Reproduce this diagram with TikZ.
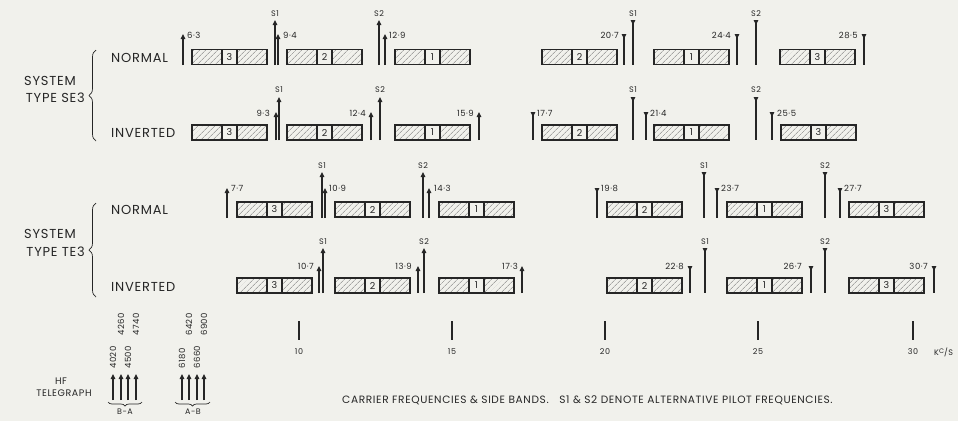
\documentclass[tikz,border=0pt]{standalone}
\usepackage{fontspec}
\setmainfont{Poppins}[LetterSpace=6]
\usetikzlibrary{arrows.meta,patterns.meta,decorations.pathreplacing}
\definecolor{paper}{RGB}{241,241,236}
\definecolor{ink}{RGB}{38,38,38}
\definecolor{hatch}{RGB}{125,125,125}

\tikzset{
  every node/.style={text=ink, inner sep=0pt},
  rowlbl/.style={font=\fontsize{13}{14}\selectfont, anchor=west},
  syslbl/.style={font=\fontsize{13}{14}\selectfont},
  freq/.style={font=\fontsize{8.5}{9}\selectfont},
  pilot/.style={font=\fontsize{8}{9}\selectfont, anchor=south},
  num/.style={font=\fontsize{9.5}{10}\selectfont},
  axlbl/.style={font=\fontsize{8}{9}\selectfont},
  upar/.style={draw=ink, line width=1.1pt, -{Triangle[length=5pt,width=4.5pt]}},
  dnar/.style={draw=ink, line width=1.1pt, {Triangle[length=5pt,width=4.5pt,reversed]}-},
  bandline/.style={draw=ink, line width=1.3pt},
  hatchfill/.style={pattern={Lines[angle=45,distance=4pt,line width=0.6pt]}, pattern color=hatch},
  curly/.style={draw=ink, line width=0.7pt, decorate, decoration={brace, amplitude=7pt}},
  smallcurly/.style={draw=ink, line width=0.7pt, decorate, decoration={brace, mirror, amplitude=4pt}},
}

% one channel band: hatched side bands either side of the numbered carrier cell
% #1 left x, #2 top y, #3 channel number, #4 node name
\newcommand\bandbox[4]{%
  \path[hatchfill] (#1,#2) rectangle ++(30,15);
  \path[hatchfill] (#1+45,#2) rectangle ++(30,15);
  \draw[bandline] (#1,#2) rectangle ++(75,15);
  \draw[bandline] (#1+30,#2) -- ++(0,15) (#1+45,#2) -- ++(0,15);
  \node[num] (#4) at (#1+37.5,#2+7.5) {#3};
}

\begin{document}
\begin{tikzpicture}[x=1pt,y=-1pt]
\fill[paper] (0,0) rectangle (958,421);
\useasboundingbox (0,0) rectangle (958,421);

% ---------------- system type SE3 ----------------
\node[syslbl] (seA) at (50,81) {SYSTEM};
\node[syslbl,anchor=east] (seB) at (85,98) {TYPE SE3};
\draw[curly] (96,141) -- (96,50);
\node[rowlbl] (seN) at (111,58) {NORMAL};
\node[rowlbl] (seI) at (111,133) {INVERTED};

\foreach \x/\n [count=\i] in {192/3,287/2,395/1,542/2,654/1,780/3}
  \bandbox{\x}{49.5}{\n}{seNb\i};
\foreach \x/\n [count=\i] in {192/3,287/2,395/1,542/2,654/1,781/3}
  \bandbox{\x}{125}{\n}{seIb\i};

\foreach \x/\t in {183/34,275/20,278/34,379/20,385/34}
  \draw[upar] (\x,65) -- (\x,\t);
\foreach \x/\t in {624/34,633/20,737/34,756/20,864/34}
  \draw[dnar] (\x,\t) -- (\x,65);
\foreach \x/\t in {276/112,279/97,371/112,380/97,479/112}
  \draw[upar] (\x,140) -- (\x,\t);
\foreach \x/\t in {533/112,633/97,646/112,756/97,772/112}
  \draw[dnar] (\x,\t) -- (\x,140);

\node[freq,anchor=west] (f1) at (187,35) {6·3};
\node[pilot] (p1) at (275,17) {S1};
\node[freq,anchor=west] (f2) at (283,35) {9·4};
\node[pilot] (p2) at (379,17) {S2};
\node[freq,anchor=west] (f3) at (389,35) {12·9};
\node[freq,anchor=east] (f4) at (619,35) {20·7};
\node[pilot] (p3) at (633,17) {S1};
\node[freq,anchor=east] (f5) at (731,35) {24·4};
\node[pilot] (p4) at (756,17) {S2};
\node[freq,anchor=east] (f6) at (858,35) {28·5};

\node[freq,anchor=east] (f7) at (270,113) {9·3};
\node[pilot] (p5) at (279,93) {S1};
\node[freq,anchor=east] (f8) at (366,113) {12·4};
\node[pilot] (p6) at (380,93) {S2};
\node[freq,anchor=east] (f9) at (474,113) {15·9};
\node[freq,anchor=west] (f10) at (537,113) {17·7};
\node[pilot] (p7) at (633,93) {S1};
\node[freq,anchor=west] (f11) at (650,113) {21·4};
\node[pilot] (p8) at (756,93) {S2};
\node[freq,anchor=west] (f12) at (777,113) {25·5};

% ---------------- system type TE3 ----------------
\node[syslbl] (teA) at (50,234) {SYSTEM};
\node[syslbl,anchor=east] (teB) at (85,252) {TYPE TE3};
\draw[curly] (96,297) -- (96,203);
\node[rowlbl] (teN) at (111,210) {NORMAL};
\node[rowlbl] (teI) at (111,287) {INVERTED};

\foreach \x/\n [count=\i] in {237/3,335/2,439/1,607/2,727/1,849/3}
  \bandbox{\x}{202}{\n}{teNb\i};
\foreach \x/\n [count=\i] in {237/3,335/2,439/1,607/2,727/1,849/3}
  \bandbox{\x}{278}{\n}{teIb\i};

\foreach \x/\t in {227/188,322/172,325/188,423/172,429/188}
  \draw[upar] (\x,218) -- (\x,\t);
\foreach \x/\t in {597/188,704/172,717/188,825/172,840/188}
  \draw[dnar] (\x,\t) -- (\x,218);
\foreach \x/\t in {319/266,323/248,418/266,424/248,522/266}
  \draw[upar] (\x,293) -- (\x,\t);
\foreach \x/\t in {690/266,705/248,811/266,825/248,934/266}
  \draw[dnar] (\x,\t) -- (\x,293);

\node[freq,anchor=west] (g1) at (231,188) {7·7};
\node[pilot] (q1) at (322,169) {S1};
\node[freq,anchor=west] (g2) at (329,188) {10·9};
\node[pilot] (q2) at (423,169) {S2};
\node[freq,anchor=west] (g3) at (434,188) {14·3};
\node[freq,anchor=west] (g4) at (601,188) {19·8};
\node[pilot] (q3) at (704,169) {S1};
\node[freq,anchor=west] (g5) at (721,188) {23·7};
\node[pilot] (q4) at (825,169) {S2};
\node[freq,anchor=west] (g6) at (844,188) {27·7};

\node[freq,anchor=east] (g7) at (314,266) {10·7};
\node[pilot] (q5) at (323,245) {S1};
\node[freq,anchor=east] (g8) at (412,266) {13·9};
\node[pilot] (q6) at (424,245) {S2};
\node[freq,anchor=east] (g9) at (518,266) {17·3};
\node[freq,anchor=east] (g10) at (684,266) {22·8};
\node[pilot] (q7) at (705,245) {S1};
\node[freq,anchor=east] (g11) at (802,266) {26·7};
\node[pilot] (q8) at (825,245) {S2};
\node[freq,anchor=east] (g12) at (928,266) {30·7};

% ---------------- frequency scale ----------------
\foreach \x/\v in {299/10,452/15,605/20,758/25,913/30} {
  \draw[ink, line width=1.1pt] (\x,321) -- (\x,340);
  \node[axlbl] (ax\v) at (\x,352) {\v};
}
\node[axlbl,anchor=west] (unit) at (934,352) {K\raisebox{2pt}{\fontsize{6.5}{7}\selectfont C}/S};

% ---------------- HF telegraph ----------------
\node[font=\fontsize{9.5}{10}\selectfont] (hf) at (61,381) {HF};
\node[font=\fontsize{9.5}{10}\selectfont] (tg) at (64,393) {TELEGRAPH};
\foreach \x/\f/\h in {113/4020/0,121/4260/1,128/4500/0,136/4740/1,
                      182/6180/0,189/6420/1,197/6660/0,204/6900/1} {
  \draw[upar] (\x,400) -- (\x,374);
  \node[freq,rotate=90,anchor=west] (hz\f) at (\x,369-33*\h) {\f};
}
\draw[smallcurly] (108,402) -- (142,402);
\draw[smallcurly] (175,402) -- (210,402);
\node[freq,font=\fontsize{8}{9}\selectfont] (ba) at (125,412) {B-A};
\node[freq,font=\fontsize{8}{9}\selectfont] (ab) at (193,412) {A-B};

\node[font=\fontsize{10.6}{12}\selectfont, anchor=west] (note) at (342,400)
  {CARRIER FREQUENCIES \& SIDE BANDS.\quad S1 \& S2 DENOTE ALTERNATIVE PILOT FREQUENCIES.};
\end{tikzpicture}
\end{document}
